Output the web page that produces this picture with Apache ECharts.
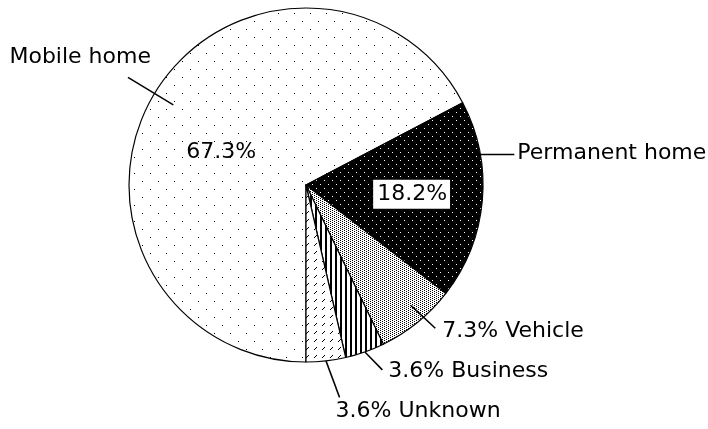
<!DOCTYPE html>
<html>
<head>
<meta charset="utf-8">
<script src="https://cdn.jsdelivr.net/npm/echarts@6/dist/echarts.min.js"></script>
<style>
  html, body { margin: 0; padding: 0; background: #fff; }
  #chart { width: 708px; height: 429px; }
</style>
</head>
<body>
<div id="chart"></div>
<script>
// Where the people in the survey were living (percent of respondents)
const categories = ['Mobile home', 'Permanent home', 'Vehicle', 'Business', 'Unknown'];
const shares = [67.3, 18.2, 7.3, 3.6, 3.6];

// Pie geometry (pixels) and the direction the first slice starts from
const CX = 306, CY = 185, R = 177;
const START_DEG = 270; // six o'clock, slices run clockwise
const FONT = 'DejaVu Sans';
const FONT_SIZE = 22;

// Small bitmap tiles used as fill patterns, one per slice
function makeTile(w, h, bg, fg, pixels) {
  const c = document.createElement('canvas');
  c.width = w; c.height = h;
  const g = c.getContext('2d');
  g.fillStyle = bg; g.fillRect(0, 0, w, h);
  g.fillStyle = fg;
  pixels.forEach(p => g.fillRect(p[0], p[1], p[2] || 1, p[3] || 1));
  return { image: c, repeat: 'repeat' };
}
const fills = [
  makeTile(16, 16, '#fff', '#000', [[6, 13], [14, 5]]),          // sparse dots
  makeTile(8, 8, '#000', '#fff', [[0, 0], [4, 4]]),               // white dots on black
  makeTile(4, 2, '#fff', '#000', [[0, 0], [2, 1]]),               // fine dots
  makeTile(5, 1, '#fff', '#000', [[0, 0, 2, 1]]),                 // vertical stripes
  makeTile(8, 8, '#fff', '#000', [[2, 5], [3, 4], [4, 3]])        // short diagonal dashes
];

// Mid-angle of each slice, derived from the shares
const total = shares.reduce((a, b) => a + b, 0);
const midDeg = [];
(function () {
  let acc = START_DEG;
  shares.forEach(v => {
    const sweep = v / total * 360;
    midDeg.push(acc - sweep / 2);
    acc -= sweep;
  });
})();

function polar(deg, r) {
  const a = deg * Math.PI / 180;
  return [CX + r * Math.cos(a), CY - r * Math.sin(a)];
}

// Leader-line routing for the outer captions
const leaders = [
  { a0: 0,  r0: 155, a1: 0,   r1: 208, dx: 23, dy: -20, align: 'right' },
  { a0: 15, r0: R,   run: 34,           dx: 3,  dy: -1,  align: 'left' },
  { a0: 2,  r0: 160, a1: 3,   r1: 193, dx: 7,  dy: 3,   align: 'left' },
  { a0: 0,  r0: R,   a1: 3,   r1: 200, dx: 6,  dy: 1,   align: 'left' },
  { a0: 0,  r0: R,   a1: 2.5, r1: 215, dx: -4, dy: 14,  align: 'left' }
];

// Placement of the percentage labels drawn on the slices
const inner = [
  { a: 10, r: 91 },
  { a: 0,  r: 106 }
];

function outerLayout(p) {
  const i = p.dataIndex, L = leaders[i], m = midDeg[i];
  const s = polar(m + L.a0, L.r0);
  const e = L.run != null ? [s[0] + L.run, s[1]] : polar(m + L.a1, L.r1);
  return {
    x: e[0] + L.dx,
    y: e[1] + L.dy,
    align: L.align,
    verticalAlign: 'middle',
    labelLinePoints: [s, e]
  };
}

function innerLayout(p) {
  const i = p.dataIndex;
  if (!inner[i]) return {};
  const pt = polar(midDeg[i] + inner[i].a, inner[i].r);
  return { x: pt[0], y: pt[1], align: 'center', verticalAlign: 'middle' };
}

// Patterned slices, with the on-slice percentages
const sliceData = categories.map((name, i) => ({
  name: name,
  value: shares[i],
  itemStyle: { color: fills[i] },
  label: i === 1
    ? { show: true, backgroundColor: '#fff', borderColor: '#000', borderWidth: 1, padding: [4, 3, 3, 4] }
    : { show: i === 0 }
}));

// Same shares again, invisible, carrying the outer captions so their leaders sit above the fills
const captionData = categories.map((name, i) => ({ name: name, value: shares[i] }));

const chart = echarts.init(document.getElementById('chart'), null, { renderer: 'canvas' });
chart.setOption({
  animation: false,
  backgroundColor: '#fff',
  series: [
    {
      type: 'pie',
      z: 2,
      center: [CX, CY],
      radius: [0, R],
      startAngle: START_DEG - 360,
      clockwise: true,
      avoidLabelOverlap: false,
      silent: true,
      itemStyle: { borderColor: '#000', borderWidth: 1.2 },
      label: {
        show: false,
        position: 'inside',
        color: '#000',
        fontFamily: FONT,
        fontSize: FONT_SIZE,
        formatter: p => p.value.toFixed(1) + '%'
      },
      labelLine: { show: false },
      labelLayout: innerLayout,
      data: sliceData
    },
    {
      type: 'pie',
      z: 5,
      center: [CX, CY],
      radius: [0, R],
      startAngle: START_DEG - 360,
      clockwise: true,
      avoidLabelOverlap: false,
      silent: true,
      itemStyle: { color: 'rgba(0,0,0,0)', borderWidth: 0 },
      label: {
        show: true,
        position: 'outside',
        color: '#000',
        fontFamily: FONT,
        fontSize: FONT_SIZE,
        formatter: p => p.dataIndex < 2 ? p.name : p.value.toFixed(1) + '% ' + p.name
      },
      labelLine: { show: true, length: 10, length2: 10, lineStyle: { color: '#000', width: 1.5 } },
      labelLayout: outerLayout,
      data: captionData
    }
  ]
});
</script>
</body>
</html>
